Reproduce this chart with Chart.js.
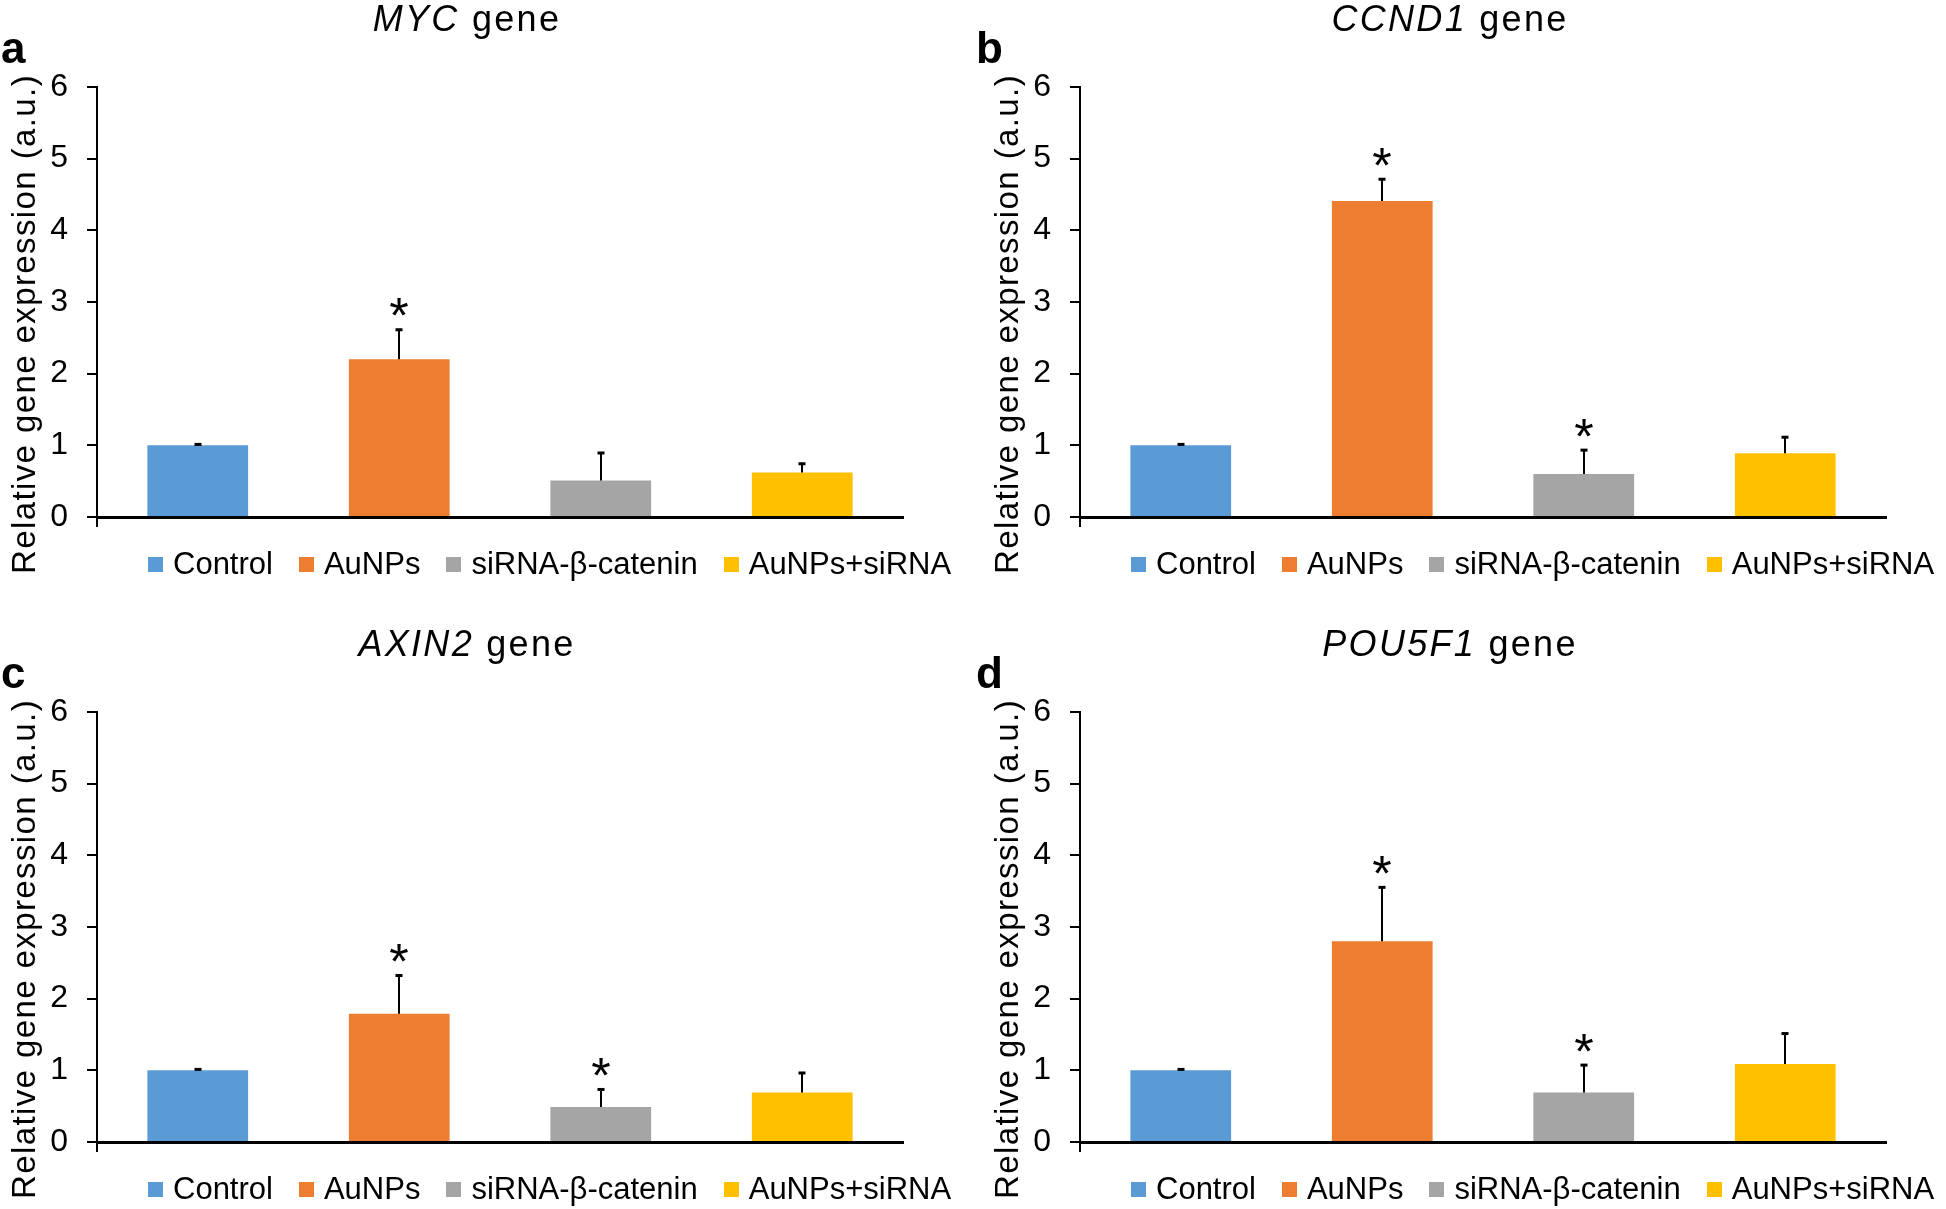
<!DOCTYPE html>
<html>
<head>
<meta charset="utf-8">
<title>Relative gene expression</title>
<script src="https://cdn.jsdelivr.net/npm/chart.js@4.4.1/dist/chart.umd.min.js"></script>
<style>
  html, body { margin: 0; padding: 0; background: #fff; }
  body { width: 1946px; height: 1209px; position: relative; overflow: hidden;
         font-family: "Liberation Sans", Arial, sans-serif; color: #000; }
  canvas { position: absolute; }
  .title { position: absolute; font-size: 36px; line-height: 36px; letter-spacing: 2.3px;
           white-space: nowrap; transform: translateX(-50%); }
  .title i { font-style: italic; }
  .letter { position: absolute; font-size: 44px; line-height: 44px; font-weight: bold; }
  .ytitle { position: absolute; font-size: 33px; line-height: 33px; letter-spacing: 1.4px;
            white-space: nowrap; transform: translate(-50%, -50%) rotate(-90deg); }
  .legend { position: absolute; display: flex; align-items: center; height: 36px;
            font-size: 31px; white-space: nowrap; }
  .legend span.item { display: flex; align-items: center; margin-right: 26px; }
  .legend span.box { width: 15px; height: 15px; margin-right: 10px; display: inline-block; }
</style>
</head>
<body>
<script>
// groups shown in every panel
const groups = ['Control', 'AuNPs', 'siRNA-β-catenin', 'AuNPs+siRNA'];
const colors = ['#5B9BD5', '#ED7D31', '#A5A5A5', '#FFC000'];

// panel info
const genes = ['MYC', 'CCND1', 'AXIN2', 'POU5F1'];
const letters = ['a', 'b', 'c', 'd'];

// means and upper error (SD)
const mycMean = [1.0, 2.2, 0.51, 0.62];
const mycErr = [0.02, 0.42, 0.39, 0.13];
const mycSig = [false, true, false, false];

const ccnd1Mean = [1.0, 4.41, 0.6, 0.89];
const ccnd1Err = [0.02, 0.31, 0.34, 0.23];
const ccnd1Sig = [false, true, true, false];

const axin2Mean = [1.0, 1.79, 0.49, 0.69];
const axin2Err = [0.02, 0.54, 0.25, 0.28];
const axin2Sig = [false, true, true, false];

const pou5f1Mean = [1.0, 2.8, 0.69, 1.09];
const pou5f1Err = [0.02, 0.76, 0.39, 0.43];
const pou5f1Sig = [false, true, true, false];

const yTicks = [0, 1, 2, 3, 4, 5, 6];

const means = [mycMean, ccnd1Mean, axin2Mean, pou5f1Mean];
const errs = [mycErr, ccnd1Err, axin2Err, pou5f1Err];
const sigs = [mycSig, ccnd1Sig, axin2Sig, pou5f1Sig];

const FONT = '"Liberation Sans", Arial, sans-serif';
const W = 983, H = 600;
const offsets = [[0, 0], [983, 0], [0, 625], [983, 625]];
const letterX = [1, 976, 1, 976];

// upper error bars and significance stars
const errorBars = {
    id: 'errorBars',
    afterDatasetsDraw(chart, args, opts) {
        const ctx = chart.ctx;
        const yScale = chart.scales.y;
        ctx.save();
        ctx.strokeStyle = '#000';
        ctx.fillStyle = '#000';
        ctx.lineWidth = 2;
        opts.mean.forEach((m, i) => {
            const bar = chart.getDatasetMeta(i).data[i];
            if (!bar) return;
            const x = Math.round(bar.x);
            const y0 = yScale.getPixelForValue(m);
            const y1 = yScale.getPixelForValue(m + opts.err[i]);
            ctx.beginPath();
            ctx.moveTo(x, y0);
            ctx.lineTo(x, y1);
            ctx.stroke();
            ctx.fillRect(x - 3.5, y1 - 1, 7, 3);
            if (opts.sig[i]) {
                ctx.font = '50px ' + FONT;
                ctx.textAlign = 'center';
                ctx.textBaseline = 'alphabetic';
                ctx.fillText('*', x, y1 + 4);
            }
        });
        ctx.restore();
    }
};

function addText(cls, html, left, top) {
    const d = document.createElement('div');
    d.className = cls;
    d.innerHTML = html;
    d.style.left = left + 'px';
    d.style.top = top + 'px';
    document.body.appendChild(d);
    return d;
}

genes.forEach((gene, p) => {
    const [ox, oy] = offsets[p];

    const canvas = document.createElement('canvas');
    canvas.width = W;
    canvas.height = H;
    canvas.style.left = ox + 'px';
    canvas.style.top = oy + 'px';
    document.body.appendChild(canvas);

    addText('title', '<i>' + gene + '</i> gene', ox + 467, oy + 1);
    addText('letter', letters[p], letterX[p], oy + 26);
    addText('ytitle', 'Relative gene expression (a.u.)', ox + 23, oy + 324);

    const leg = addText('legend', '', ox + 148, oy + 546);
    groups.forEach((g, i) => {
        leg.innerHTML += '<span class="item"><span class="box" style="background:' + colors[i] +
            '"></span>' + g + '</span>';
    });

    const datasets = groups.map((g, i) => ({
        label: g,
        data: groups.map((_, j) => (j === i ? means[p][i] : null)),
        backgroundColor: colors[i],
        borderWidth: 0,
        barPercentage: 0.5,
        categoryPercentage: 1.0
    }));

    new Chart(canvas.getContext('2d'), {
        type: 'bar',
        data: { labels: groups, datasets: datasets },
        plugins: [errorBars],
        options: {
            responsive: false,
            animation: false,
            devicePixelRatio: 1,
            skipNull: true,
            layout: { padding: { top: 87, right: 80, bottom: 73, left: 0 } },
            plugins: {
                legend: { display: false },
                title: { display: false },
                tooltip: { enabled: false },
                errorBars: { mean: means[p], err: errs[p], sig: sigs[p] }
            },
            scales: {
                x: {
                    afterFit: s => { s.height = 10; },
                    ticks: { display: false },
                    grid: {
                        offset: true,
                        drawOnChartArea: false,
                        drawTicks: true,
                        tickLength: 10,
                        lineWidth: 2,
                        color: c => (c.index === 0 || c.index === groups.length ? '#000' : 'rgba(0,0,0,0)')
                    },
                    border: { display: true, color: '#000', width: 3 }
                },
                y: {
                    min: 0,
                    max: 6,
                    afterFit: s => { s.width = 97; },
                    afterBuildTicks: s => { s.ticks = yTicks.map(v => ({ value: v })); },
                    ticks: {
                        color: '#000',
                        padding: 19,
                        font: { family: FONT, size: 32 }
                    },
                    grid: {
                        drawOnChartArea: false,
                        drawTicks: true,
                        tickLength: 10,
                        lineWidth: 2,
                        color: '#000'
                    },
                    border: { display: true, color: '#000', width: 2 }
                }
            }
        }
    });
});
</script>
</body>
</html>
